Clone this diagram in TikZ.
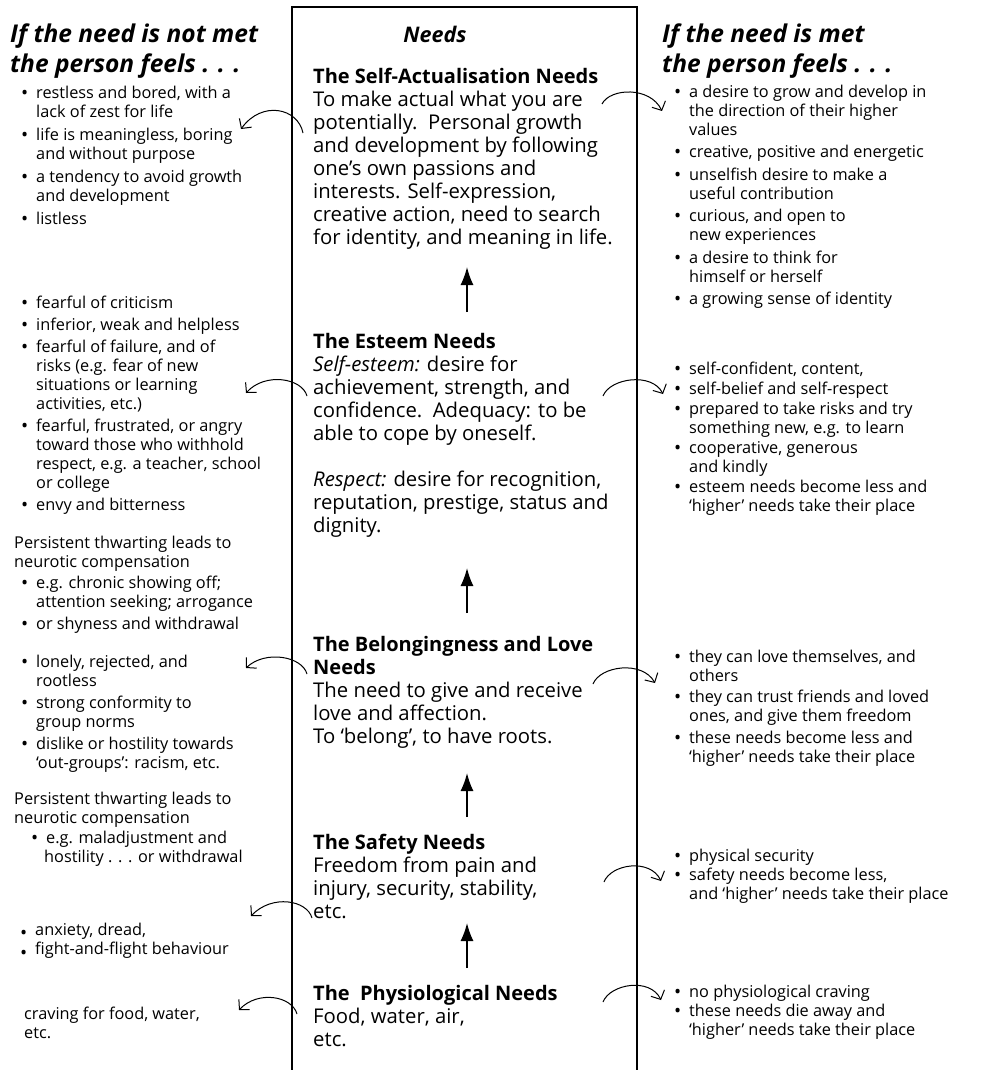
\documentclass[tikz,border=0pt]{standalone}
\usepackage{fontspec}
\setmainfont{Open Sans}
\usetikzlibrary{arrows.meta}
% bullet and hanging indent for the side lists
\newcommand\blt{\makebox[15pt][l]{\raisebox{-1pt}{\fontsize{19}{19}\selectfont\textbullet}}}
\newcommand\hng{\hspace*{15pt}}
% level titles in the central column
\newcommand\lvl[1]{{\fontsize{20}{23}\selectfont\bfseries #1}}
\begin{document}
\begin{tikzpicture}[x=1pt,y=-1pt,
  side/.style={anchor=north west,inner sep=0pt,align=left,font=\fontsize{16.3}{19}\selectfont},
  mid/.style={anchor=north west,inner sep=0pt,align=left,font=\fontsize{20.3}{23}\selectfont},
  head/.style={anchor=north west,inner sep=0pt,align=left,font=\fontsize{24.5}{30}\selectfont\bfseries\itshape},
  uparrow/.style={line width=1.6pt,-{Latex[length=18pt,width=13pt]}},
  curvearrow/.style={line width=1pt,-{Straight Barb[length=7pt,width=15pt]}}]
\useasboundingbox (0,0) rectangle (981,1070);

% the central column
\draw[line width=1.3pt] (292,1070) -- (292,7) -- (637,7) -- (637,1070);

% headings
\node[head] (hleft) at (10,21) {\strut If the need is not met\\the person feels . . .};
\node[head] (hright) at (662,21) {\strut If the need is met\\the person feels . . .};
\node[anchor=base,inner sep=0pt,font=\fontsize{21.5}{23}\selectfont\bfseries\itshape] (hmid) at (435,43) {Needs};

% central column: the five levels
\node[mid] (m1) at (313,66.9) {\strut\lvl{The Self-Actualisation Needs}\\
To make actual what you are\\
potentially.\ \ Personal growth\\
and development by following\\
one’s own passions and\\
interests. Self-expression,\\
creative action, need to search\\
for identity, and meaning in life.};

\node[mid] (m2) at (313,331.9) {\strut\lvl{The Esteem Needs}\\
\textit{Self-esteem:} desire for\\
achievement, strength, and\\
confidence.\ \ Adequacy: to be\\
able to cope by oneself.\\[23pt]
\textit{Respect:} desire for recognition,\\
reputation, prestige, status and\\
dignity.};

\node[mid] (m3) at (313,634.9) {\strut\lvl{The Belongingness and Love}\\
\lvl{Needs}\\
The need to give and receive\\
love and affection.\\
To ‘belong’, to have roots.};

\node[mid] (m4) at (313,832.9) {\strut\lvl{The Safety Needs}\\
Freedom from pain and\\
injury, security, stability,\\
etc.};

\node[mid] (m5) at (313,983.9) {\strut\lvl{The\ \ Physiological Needs}\\
Food, water, air,\\
etc.};

% upward arrows between the levels
\coordinate (a1s) at (467,312); \coordinate (a1e) at (467,267);
\coordinate (a2s) at (467,613); \coordinate (a2e) at (467,568);
\coordinate (a3s) at (467,817); \coordinate (a3e) at (467,773);
\coordinate (a4s) at (467,968); \coordinate (a4e) at (467,923);
\draw[uparrow] (a1s) -- (a1e);
\draw[uparrow] (a2s) -- (a2e);
\draw[uparrow] (a3s) -- (a3e);
\draw[uparrow] (a4s) -- (a4e);

% left side: need not met
\node[side] (l1) at (21,84.7) {\strut\blt restless and bored, with a\\
\hng lack of zest for life\\[4pt]
\blt life is meaningless, boring\\
\hng and without purpose\\[4pt]
\blt a tendency to avoid growth\\
\hng and development\\[4pt]
\blt listless};

\node[side] (l2) at (21,294.7) {\strut\blt fearful of criticism\\[3pt]
\blt inferior, weak and helpless\\[3pt]
\blt fearful of failure, and of\\
\hng risks (e.g. fear of new\\
\hng situations or learning\\
\hng activities, etc.)\\[3pt]
\blt fearful, frustrated, or angry\\
\hng toward those who withhold\\
\hng respect, e.g. a teacher, school\\
\hng or college\\[3pt]
\blt envy and bitterness};

\node[side] (l2p) at (14,534.7) {\strut Persistent thwarting leads to\\neurotic compensation};
\node[side] (l2b) at (21,574.7) {\strut\blt e.g. chronic showing off;\\
\hng attention seeking; arrogance\\[3.5pt]
\blt or shyness and withdrawal};

\node[side] (l3) at (21,653.7) {\strut\blt lonely, rejected, and\\
\hng rootless\\[3pt]
\blt strong conformity to\\
\hng group norms\\[3pt]
\blt dislike or hostility towards\\
\hng ‘out-groups’: racism, etc.};

\node[side] (l3p) at (14,790.7) {\strut Persistent thwarting leads to\\neurotic compensation};
\node[side] (l3b) at (31,829.7) {\strut\blt e.g. maladjustment and\\
\hspace*{13pt}hostility . . . or withdrawal};

\node[side] (l4) at (20,921.7) {\strut\raisebox{-3pt}{\blt}anxiety, dread,\\
\raisebox{-4pt}{\blt}fight-and-flight behaviour};

\node[side] (l5) at (24,1005.7) {\strut craving for food, water,\\etc.};

% right side: need met
\node[side] (r1) at (674,83.7) {\strut\blt a desire to grow and develop in\\
\hng the direction of their higher\\
\hng values\\[3.5pt]
\blt creative, positive and energetic\\[3.5pt]
\blt unselfish desire to make a\\
\hng useful contribution\\[3.5pt]
\blt curious, and open to\\
\hng new experiences\\[3.5pt]
\blt a desire to think for\\
\hng himself or herself\\[3.5pt]
\blt a growing sense of identity};

\node[side] (r2) at (674,360.7) {\strut\blt self-confident, content,\\[1pt]
\blt self-belief and self-respect\\[1pt]
\blt prepared to take risks and try\\
\hng something new, e.g. to learn\\[1pt]
\blt cooperative, generous\\
\hng and kindly\\[1pt]
\blt esteem needs become less and\\
\hng ‘higher’ needs take their place};

\node[side] (r3) at (674,648.7) {\strut\blt they can love themselves, and\\
\hng others\\[2.5pt]
\blt they can trust friends and loved\\
\hng ones, and give them freedom\\[2.5pt]
\blt these needs become less and\\
\hng ‘higher’ needs take their place};

\node[side] (r4) at (674,847.7) {\strut\blt physical security\\
\blt safety needs become less,\\
\hng and ‘higher’ needs take their place};

\node[side] (r5) at (674,983.7) {\strut\blt no physiological craving\\
\blt these needs die away and\\
\hng ‘higher’ needs take their place};

% curved arrows out of the column
\coordinate (L1s) at (303,133); \coordinate (L1t) at (241,129);
\coordinate (R1s) at (602,104); \coordinate (R1t) at (662,111);
\coordinate (L2s) at (307,396); \coordinate (L2t) at (246,393);
\coordinate (R2s) at (603,396); \coordinate (R2t) at (663,394);
\coordinate (L3s) at (307,674); \coordinate (L3t) at (246,668);
\coordinate (R3s) at (593,684); \coordinate (R3t) at (655,683);
\coordinate (L4s) at (312,918); \coordinate (L4t) at (251,916);
\coordinate (R4s) at (604,882); \coordinate (R4t) at (661,881);
\coordinate (L5s) at (297,1014); \coordinate (L5t) at (239,1010);
\coordinate (R5s) at (603,1002); \coordinate (R5t) at (661,1000);
\draw[curvearrow] (L1s) .. controls +(-5,-25) and +(21,-29) .. (L1t);
\draw[curvearrow] (R1s) .. controls +(8,-16) and +(-12,-25) .. (R1t);
\draw[curvearrow] (L2s) .. controls +(-5,-18) and +(19,-21) .. (L2t);
\draw[curvearrow] (R2s) .. controls +(7,-18) and +(-11,-22) .. (R2t);
\draw[curvearrow] (L3s) .. controls +(-5,-18) and +(19,-18) .. (L3t);
\draw[curvearrow] (R3s) .. controls +(7,-18) and +(-13,-23) .. (R3t);
\draw[curvearrow] (L4s) .. controls +(-5,-18) and +(21,-22) .. (L4t);
\draw[curvearrow] (R4s) .. controls +(7,-18) and +(-11,-23) .. (R4t);
\draw[curvearrow] (L5s) .. controls +(-5,-18) and +(19,-20) .. (L5t);
\draw[curvearrow] (R5s) .. controls +(7,-18) and +(-11,-23) .. (R5t);
\end{tikzpicture}
\end{document}
